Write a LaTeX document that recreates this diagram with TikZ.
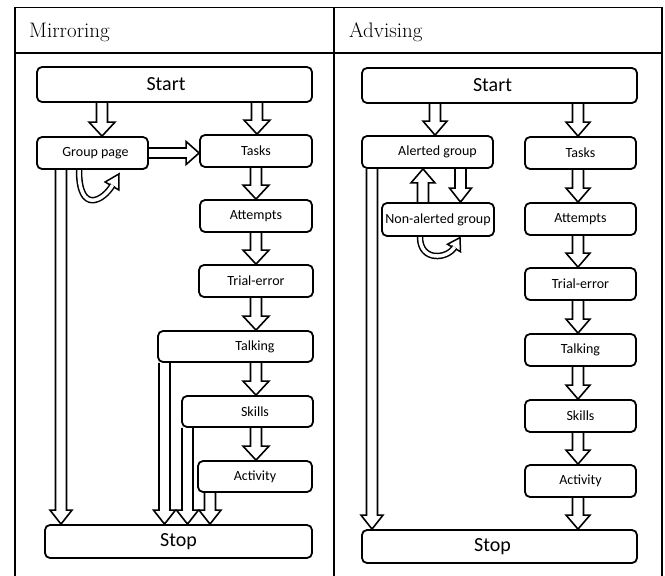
\documentclass[tikz,border=0pt]{standalone}
\usepackage{fontspec}
\newfontfamily\boxfont{Carlito}
\usetikzlibrary{calc}
\pgfdeclarelayer{bg}
\pgfsetlayers{bg,main}
\tikzset{
  bx/.style={draw, line width=1.8pt, rounded corners=5pt, fill=white, inner sep=0pt,
    font=\boxfont\fontsize{14}{16}\selectfont, minimum height=32pt, anchor=center},
  bigbx/.style={bx, font=\boxfont\fontsize{20}{22}\selectfont},
  barr/.style={draw, line width=1.6pt, fill=white, line join=miter},
  loopshaft/.style={double=white, draw=black, line width=1.5pt, double distance=3.5pt},
  grid/.style={line width=1.8pt},
  hdr/.style={font=\fontsize{21}{24}\selectfont, inner sep=0pt, anchor=base west},
}
% vertical block arrow downwards: x, source, target, half head width
\newcommand\vdown[4]{\path[barr] let \p1=(#2.south), \p2=(#3.north) in
  (#1pt-5.5pt,\y1) -- (#1pt-5.5pt,\y2+14pt) -- (#1pt-#4,\y2+14pt) -- (#1pt,\y2)
  -- (#1pt+#4,\y2+14pt) -- (#1pt+5.5pt,\y2+14pt) -- (#1pt+5.5pt,\y1);}
% vertical block arrow upwards
\newcommand\vup[4]{\path[barr] let \p1=(#2.north), \p2=(#3.south) in
  (#1pt-5.5pt,\y1) -- (#1pt-5.5pt,\y2-14pt) -- (#1pt-#4,\y2-14pt) -- (#1pt,\y2)
  -- (#1pt+#4,\y2-14pt) -- (#1pt+5.5pt,\y2-14pt) -- (#1pt+5.5pt,\y1);}
% horizontal block arrow to the right: y, source, target, half head width
\newcommand\hright[4]{\path[barr] let \p1=(#2.east), \p2=(#3.west) in
  (\x1,#1pt+5pt) -- (\x2-13pt,#1pt+5pt) -- (\x2-13pt,#1pt+#4) -- (\x2,#1pt)
  -- (\x2-13pt,#1pt-#4) -- (\x2-13pt,#1pt-5pt) -- (\x1,#1pt-5pt);}
\begin{document}
\begin{tikzpicture}[x=1pt,y=1pt]
\useasboundingbox (0,0) rectangle (665,-576);
% table
\draw[grid, line join=miter] (15,-576) -- (15,-7.5) -- (662,-7.5) -- (662,-576);
\draw[grid] (15,-53) -- (662,-53);
\draw[grid] (334,-7.5) -- (334,-576);
\node[hdr] (hmir) at (29,-37.5) {Mirroring};
\node[hdr] (hadv) at (349,-37.5) {Advising};

% ---------- Mirroring ----------
\node[bigbx, minimum width=275pt, minimum height=35pt] (Lstart) at (174.5,-84.5) {Start\hspace*{17pt}};
\node[bx, minimum width=111pt] (Lgroup) at (92.5,-153) {\hspace*{6pt}Group page};
\node[bx, minimum width=112pt] (Ltasks) at (256,-151) {Tasks};
\node[bx, minimum width=112pt] (Lattempts) at (256,-216) {Attempts};
\node[bx, minimum width=114pt] (Ltrial) at (256,-281) {Trial-error};
\node[bx, minimum width=155pt, minimum height=31pt] (Ltalking) at (235.5,-346.5) {\hspace*{39pt}Talking};
\node[bx, minimum width=131pt, minimum height=31pt] (Lskills) at (247.5,-411.5) {\hspace*{15pt}Skills};
\node[bx, minimum width=114pt, minimum height=31pt] (Lactivity) at (255,-476.5) {Activity};
\node[bigbx, minimum width=267pt, minimum height=33pt] (Lstop) at (178.5,-541.5) {Stop};

% ---------- Advising ----------
\node[bigbx, minimum width=275pt, minimum height=35pt] (Rstart) at (499.5,-85.5) {Start\hspace*{14pt}};
\node[bx, minimum width=131pt] (Ralerted) at (427.5,-152) {\hspace*{20pt}Alerted group};
\node[bx, minimum width=111pt] (Rtasks) at (580.5,-153) {Tasks};
\node[bx, minimum width=112pt, minimum height=33pt] (Rnon) at (438,-219.5) {Non-alerted group};
\node[bx, minimum width=111pt] (Rattempts) at (580.5,-219) {Attempts};
\node[bx, minimum width=111pt] (Rtrial) at (580.5,-284) {Trial-error};
\node[bx, minimum width=111pt] (Rtalking) at (580.5,-350) {Talking};
\node[bx, minimum width=111pt] (Rskills) at (580.5,-416) {Skills};
\node[bx, minimum width=111pt] (Ractivity) at (580.5,-481) {Activity};
\node[bigbx, minimum width=275pt, minimum height=33pt] (Rstop) at (499.5,-546.5) {Stop\hspace*{14pt}};

\begin{pgfonlayer}{bg}
% left arrows
\vdown{102}{Lstart}{Lgroup}{13pt}
\vdown{257}{Lstart}{Ltasks}{13pt}
\hright{-153}{Lgroup}{Ltasks}{11.5pt}
\vdown{256}{Ltasks}{Lattempts}{13pt}
\vdown{256}{Lattempts}{Ltrial}{13pt}
\vdown{256}{Ltrial}{Ltalking}{13pt}
\vdown{256}{Ltalking}{Lskills}{13pt}
\vdown{256}{Lskills}{Lactivity}{13pt}
\vdown{61}{Lgroup}{Lstop}{11pt}
\vdown{164.5}{Ltalking}{Lstop}{11pt}
\vdown{187.5}{Lskills}{Lstop}{11pt}
\vdown{210}{Lactivity}{Lstop}{11pt}
% left self loop
\coordinate (lloopA) at ([xshift=-13.5pt]Lgroup.south);
\draw[barr, line width=1.5pt] (119,-173.9) -- (118.9,-190) -- (105.1,-182) -- cycle;
\draw[loopshaft] (lloopA) .. controls (79,-215) and (103.6,-200.6) .. (112.6,-185);
% right arrows
\vdown{435}{Rstart}{Ralerted}{12pt}
\vdown{578}{Rstart}{Rtasks}{12pt}
\vdown{460.5}{Ralerted}{Rnon}{11pt}
\vup{423}{Rnon}{Ralerted}{12pt}
\vdown{578}{Rtasks}{Rattempts}{12pt}
\vdown{578}{Rattempts}{Rtrial}{12pt}
\vdown{578}{Rtrial}{Rtalking}{12pt}
\vdown{578}{Rtalking}{Rskills}{12pt}
\vdown{578}{Rskills}{Ractivity}{12pt}
\vdown{578}{Ractivity}{Rstop}{12pt}
\vdown{372}{Ralerted}{Rstop}{11pt}
% right self loop
\coordinate (rloopA) at ([xshift=-18pt]Rnon.south);
\draw[barr, line width=1.5pt] (460,-237.6) -- (460.5,-251.75) -- (447.5,-244.25) -- cycle;
\draw[loopshaft] (rloopA) .. controls (420,-262) and (447.6,-259.1) .. (454.6,-247);
\end{pgfonlayer}
\end{tikzpicture}
\end{document}
